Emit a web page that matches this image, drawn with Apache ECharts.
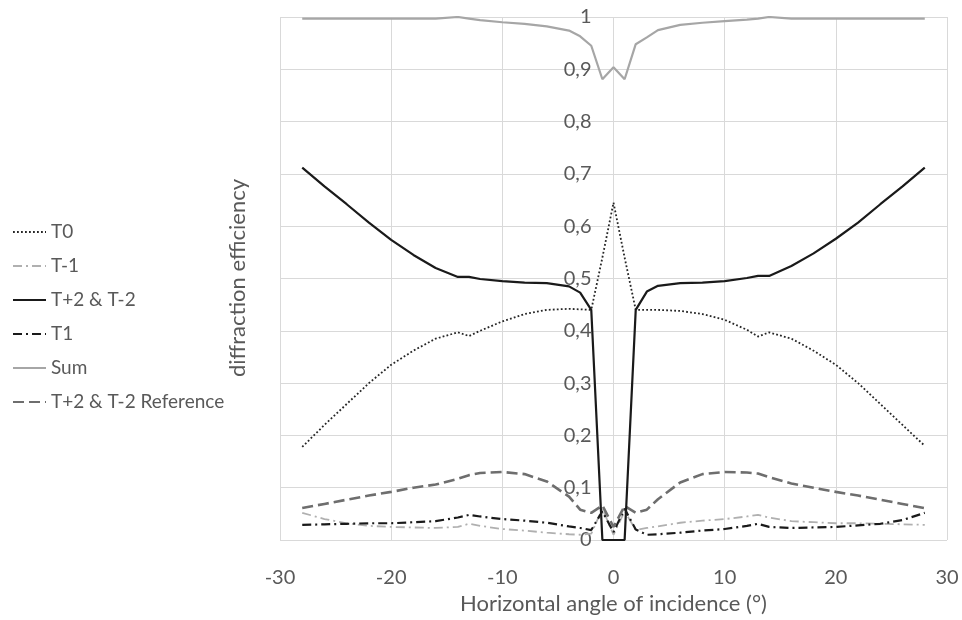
<!DOCTYPE html>
<html>
<head>
<meta charset="utf-8">
<script src="https://cdn.jsdelivr.net/npm/echarts@6/dist/echarts.min.js"></script>
<style>
html,body{margin:0;padding:0;background:#fff;}
#chart{width:962px;height:620px;}
</style>
</head>
<body>
<div id="chart"></div>
<script>
const angles = [-28,-26,-24,-22,-20,-18,-16,-14,-13,-12,-10,-8,-6,-4,-3,-2,-1,0,1,2,3,4,6,8,10,12,13,14,16,18,20,22,24,26,28];

const t0 =      [0.178,0.22,0.26,0.30,0.335,0.362,0.385,0.397,0.39,0.40,0.418,0.432,0.44,0.442,0.441,0.44,0.54,0.645,0.54,0.44,0.44,0.44,0.438,0.432,0.421,0.402,0.389,0.397,0.385,0.362,0.335,0.30,0.26,0.22,0.18];
const tMinus1 = [0.052,0.04,0.032,0.027,0.025,0.024,0.023,0.025,0.031,0.027,0.021,0.018,0.014,0.011,0.010,0.012,0.060,0.010,0.055,0.019,0.023,0.026,0.033,0.037,0.040,0.045,0.048,0.043,0.036,0.034,0.032,0.032,0.031,0.030,0.029];
const t2 =      [0.712,0.676,0.642,0.607,0.574,0.545,0.52,0.503,0.503,0.499,0.495,0.492,0.491,0.485,0.473,0.44,0,0,0,0.44,0.475,0.486,0.491,0.492,0.495,0.501,0.505,0.505,0.524,0.548,0.576,0.607,0.642,0.676,0.712];
const t1 =      [0.029,0.030,0.031,0.032,0.032,0.034,0.036,0.043,0.048,0.045,0.040,0.037,0.033,0.026,0.023,0.019,0.055,0.015,0.060,0.020,0.010,0.011,0.014,0.018,0.021,0.027,0.031,0.025,0.023,0.024,0.025,0.028,0.031,0.038,0.052];
const sum =     [0.997,0.997,0.997,0.997,0.997,0.997,0.997,1.0,0.997,0.994,0.99,0.987,0.982,0.974,0.963,0.945,0.881,0.904,0.881,0.948,0.961,0.975,0.985,0.989,0.992,0.995,0.997,1.0,0.997,0.997,0.997,0.997,0.997,0.997,0.997];
const t2Ref =   [0.061,0.069,0.077,0.085,0.092,0.100,0.106,0.117,0.124,0.128,0.130,0.126,0.112,0.083,0.058,0.052,0.066,0.025,0.065,0.052,0.058,0.078,0.110,0.126,0.130,0.129,0.127,0.120,0.108,0.100,0.092,0.085,0.077,0.069,0.061];

const seriesNames = ['T0','T-1','T+2 & T-2','T1','Sum','T+2 & T-2 Reference'];
const xTitle = 'Horizontal angle of incidence (°)';
const yTitle = 'diffraction efficiency';

function pairs(vals){ return angles.map((a,i)=>[a, vals[i]]); }

const styles = [
  {color:'#262626', width:1.8, type:[1.8,2.2]},
  {color:'#b0b0b0', width:1.8, type:[9,4,2,4]},
  {color:'#1a1a1a', width:2.2, type:'solid'},
  {color:'#1a1a1a', width:2.2, type:[9,4,2,4]},
  {color:'#a6a6a6', width:2.2, type:'solid'},
  {color:'#6e6e6e', width:2.6, type:[11,5]}
];
const datasets = [t0, tMinus1, t2, t1, sum, t2Ref];

const chart = echarts.init(document.getElementById('chart'), null, {renderer:'canvas'});
const font = 'Lato, "Open Sans", sans-serif';
const GRID_LEFT = 280, GRID_RIGHT = 15;
const plotW = 962 - GRID_LEFT - GRID_RIGHT;
chart.setOption({
  animation:false,
  backgroundColor:'#fff',
  textStyle:{fontFamily:font},
  grid:{left:GRID_LEFT, right:GRID_RIGHT, top:17, bottom:80},
  legend:{
    orient:'vertical', left:7, top:217,
    itemWidth:33, itemHeight:14, itemGap:14,
    itemStyle:{opacity:0, borderWidth:0},
    textStyle:{fontSize:19, color:'#595959', fontFamily:font, lineHeight:20},
    data:seriesNames
  },
  graphic:[{
    type:'text', x:238, y:278, rotation:Math.PI/2,
    style:{text:yTitle, fill:'#595959', font:'22px ' + font, align:'center', verticalAlign:'middle'}
  }],
  xAxis:{
    type:'value', min:-30, max:30, interval:10,
    name:xTitle, nameLocation:'middle', nameGap:53,
    nameTextStyle:{fontSize:22, color:'#595959'},
    axisLine:{show:false}, axisTick:{show:false},
    axisLabel:{fontSize:20, color:'#595959', margin:28},
    splitLine:{show:true, lineStyle:{color:'#d9d9d9', width:1}}
  },
  yAxis:{
    type:'value', min:0, max:1, interval:0.1,
    offset:-plotW/2,
    axisLine:{show:false}, axisTick:{show:false},
    axisLabel:{fontSize:20, color:'#595959', margin:22,
      formatter:v=>String(Math.round(v*10)/10).replace('.',',')},
    splitLine:{show:true, lineStyle:{color:'#d9d9d9', width:1}}
  },
  series: seriesNames.map((n,i)=>({
    name:n, type:'line', data:pairs(datasets[i]),
    symbol:'none', smooth:false,
    color:styles[i].color,
    lineStyle:{color:styles[i].color, width:styles[i].width, type:styles[i].type},
    z: i===2 ? 5 : 3
  }))
});
</script>
</body>
</html>
